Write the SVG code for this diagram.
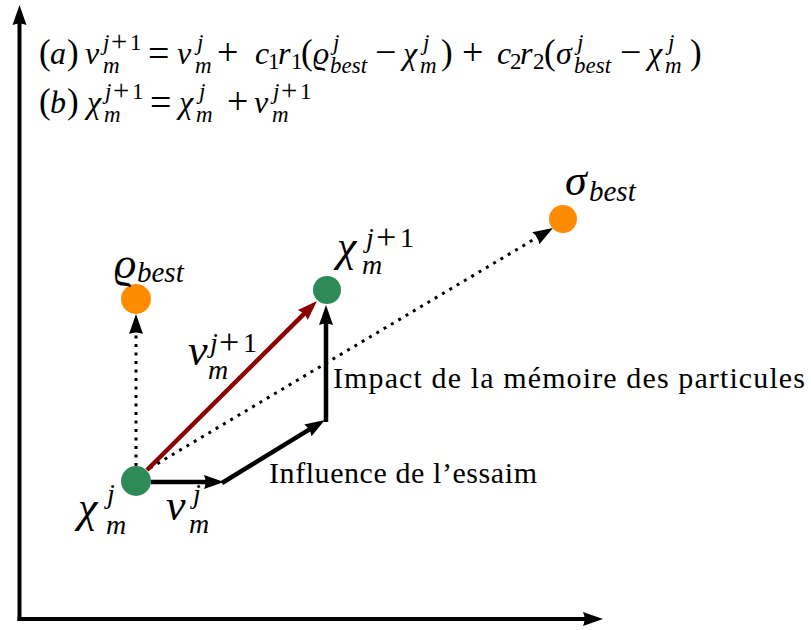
<svg xmlns="http://www.w3.org/2000/svg" width="811" height="630" viewBox="0 0 811 630">
<style>
.i{font-family:"Liberation Serif","DejaVu Serif",serif;font-style:italic;fill:#000}
.r{font-family:"Liberation Serif","DejaVu Serif",serif;font-style:normal;fill:#000}
.f{font-size:32px}
.p{font-size:35px}
.o{font-size:38px}
.s{font-size:23px}
.so{font-size:29px}
.L{font-size:44px}
.Ls{font-size:28px}
.Lb{font-size:29px}
.Lo{font-size:36px}
.txt{font-family:"Liberation Serif","DejaVu Serif",serif;font-size:30px;fill:#000}
.ax{stroke:#000;stroke-width:4;fill:none}
.sol{stroke:#000;stroke-width:4.5;fill:none}
.red{stroke:#8b0000;stroke-width:4.5;fill:none}
.dot{stroke:#000;stroke-width:3;stroke-dasharray:3 5.5;fill:none}
.green{fill:#2e8b57}
.orange{fill:#ff8c00}
</style>
<defs>
<marker id="ah" viewBox="0 0 20 16" refX="12" refY="8" markerWidth="20" markerHeight="16" markerUnits="userSpaceOnUse" orient="auto">
<path d="M0,1 L20,8 L0,15 Q3,8 0,1 z" fill="#000"/>
</marker>
<marker id="ahr" viewBox="0 0 20 16" refX="12" refY="8" markerWidth="20" markerHeight="16" markerUnits="userSpaceOnUse" orient="auto">
<path d="M0,1 L20,8 L0,15 Q3,8 0,1 z" fill="#8b0000"/>
</marker>
</defs>

<g id="axes">
<path class="ax" d="M19.5,621 L19.5,13" marker-end="url(#ah)"/>
<path class="ax" d="M17.5,619 L595,619" marker-end="url(#ah)"/>
</g>

<g id="formulas">
<text id="eq-a" class="f">
<tspan class="r p" x="39" y="64">(</tspan><tspan class="i" x="50" y="64">a</tspan><tspan class="r p" x="67" y="64">)</tspan>
<tspan class="i" x="85" y="64">ν</tspan><tspan class="i s" x="103" y="50">j</tspan><tspan class="r so" x="111" y="51">+</tspan><tspan class="r s" x="130" y="50">1</tspan><tspan class="i s" x="103" y="73">m</tspan>
<tspan class="r o" x="148" y="66">=</tspan>
<tspan class="i" x="177" y="64">ν</tspan><tspan class="i s" x="197" y="50">j</tspan><tspan class="i s" x="195" y="73">m</tspan>
<tspan class="r o" x="217" y="65">+</tspan>
<tspan class="i" x="255" y="64">c</tspan><tspan class="r s" x="268" y="69">1</tspan><tspan class="i" x="278" y="64">r</tspan><tspan class="r s" x="291" y="69">1</tspan><tspan class="r p" x="301" y="64">(</tspan>
<tspan class="i" x="313" y="64">ϱ</tspan><tspan class="i s" x="333" y="50">j</tspan><tspan class="i s" x="330" y="73">best</tspan>
<tspan class="r o" x="375" y="65">−</tspan>
<tspan class="i" x="403" y="64">χ</tspan><tspan class="i s" x="423" y="50">j</tspan><tspan class="i s" x="420" y="73">m</tspan><tspan class="r p" x="441" y="64">)</tspan>
<tspan class="r o" x="462" y="65">+</tspan>
<tspan class="i" x="497" y="64">c</tspan><tspan class="r s" x="510" y="69">2</tspan><tspan class="i" x="520" y="64">r</tspan><tspan class="r s" x="533" y="69">2</tspan><tspan class="r p" x="544" y="64">(</tspan>
<tspan class="i" x="556" y="64">σ</tspan><tspan class="i s" x="577" y="50">j</tspan><tspan class="i s" x="574" y="73">best</tspan>
<tspan class="r o" x="620" y="65">−</tspan>
<tspan class="i" x="648" y="64">χ</tspan><tspan class="i s" x="668" y="50">j</tspan><tspan class="i s" x="665" y="73">m</tspan><tspan class="r p" x="690" y="64">)</tspan>
</text>
<text id="eq-b" class="f">
<tspan class="r p" x="39" y="113">(</tspan><tspan class="i" x="50" y="113">b</tspan><tspan class="r p" x="67" y="113">)</tspan>
<tspan class="i" x="87" y="113">χ</tspan><tspan class="i s" x="105" y="99">j</tspan><tspan class="r so" x="113" y="100">+</tspan><tspan class="r s" x="132" y="99">1</tspan><tspan class="i s" x="104" y="122">m</tspan>
<tspan class="r o" x="150" y="115">=</tspan>
<tspan class="i" x="179" y="113">χ</tspan><tspan class="i s" x="199" y="99">j</tspan><tspan class="i s" x="196" y="122">m</tspan>
<tspan class="r o" x="227" y="114">+</tspan>
<tspan class="i" x="254" y="113">ν</tspan><tspan class="i s" x="273" y="99">j</tspan><tspan class="r so" x="281" y="100">+</tspan><tspan class="r s" x="300" y="99">1</tspan><tspan class="i s" x="272" y="122">m</tspan>
</text>
</g>

<g id="connectors">
<path class="dot" d="M136,466 L136,322" marker-end="url(#ah)"/>
<path class="dot" d="M150,468 L546.1,232.1" marker-end="url(#ah)"/>
<path class="red" d="M147,470 L311.3,306.6" marker-end="url(#ahr)"/>
<path class="sol" d="M151,482 L216,482" marker-end="url(#ah)"/>
<path class="sol" d="M222,483 L318.1,424.1" marker-end="url(#ah)"/>
<path class="sol" d="M326,422 L326,313" marker-end="url(#ah)"/>
</g>

<g id="node-chi-j">
<circle class="green" cx="136" cy="481" r="15"/>
<text class="L"><tspan class="i" x="78" y="522">χ</tspan><tspan class="i Ls" x="107" y="503">j</tspan><tspan class="i Ls" x="106" y="534">m</tspan></text>
</g>
<g id="node-rho-best">
<circle class="orange" cx="136" cy="299" r="15"/>
<text class="L"><tspan class="i" x="114" y="278">ϱ</tspan><tspan class="i Lb" x="137" y="282">best</tspan></text>
</g>
<g id="node-chi-j1">
<circle class="green" cx="327" cy="290" r="14"/>
<text class="L"><tspan class="i" x="337" y="261">χ</tspan><tspan class="i Ls" x="366" y="247">j</tspan><tspan class="r Lo" x="376" y="249">+</tspan><tspan class="r Ls" x="400" y="247">1</tspan><tspan class="i Ls" x="362" y="274">m</tspan></text>
</g>
<g id="node-sigma-best">
<circle class="orange" cx="563" cy="219" r="14"/>
<text class="L"><tspan class="i" x="565" y="195">σ</tspan><tspan class="i Lb" x="589" y="201">best</tspan></text>
</g>

<g id="labels">
<text class="L"><tspan class="i" x="188" y="365">ν</tspan><tspan class="i Ls" x="210" y="352">j</tspan><tspan class="r Lo" x="219" y="354">+</tspan><tspan class="r Ls" x="243" y="352">1</tspan><tspan class="i Ls" x="208" y="379">m</tspan></text>
<text class="L"><tspan class="i" x="166" y="520">ν</tspan><tspan class="i Ls" x="193" y="503">j</tspan><tspan class="i Ls" x="189" y="533">m</tspan></text>
<text class="txt" x="269" y="483" textLength="268">Influence de l’essaim</text>
<text class="txt" x="333" y="388" textLength="472">Impact de la mémoire des particules</text>
</g>
</svg>
